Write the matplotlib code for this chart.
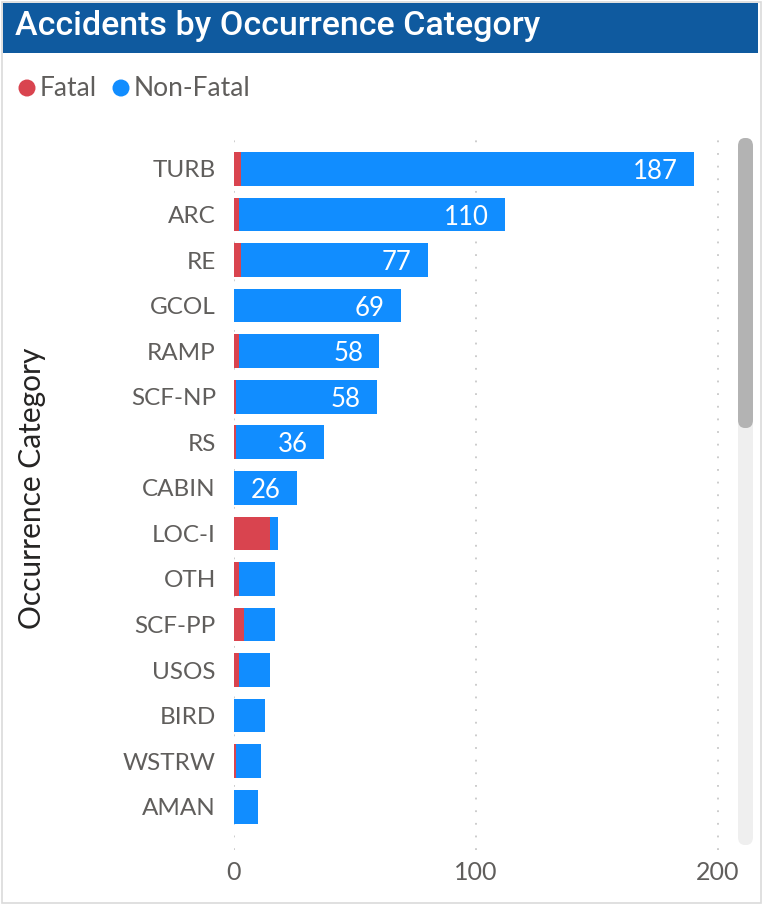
import matplotlib
matplotlib.use("Agg")
import matplotlib.pyplot as plt
from matplotlib.patches import FancyBboxPatch, Rectangle, Ellipse

categories = ["TURB", "ARC", "RE", "GCOL", "RAMP", "SCF-NP", "RS", "CABIN",
              "LOC-I", "OTH", "SCF-PP", "USOS", "BIRD", "WSTRW", "AMAN"]
fatal =     [3, 2, 3, 0, 2, 1, 1, 0, 15, 2, 4, 2, 0, 1, 0]
non_fatal = [187, 110, 77, 69, 58, 58, 36, 26, 3, 15, 13, 13, 13, 10, 10]
x_ticks = [0, 100, 200]

RED = "#D9444F"
BLUE = "#118DFF"
TITLE_BG = "#0F5A9F"
TICK_C = "#605E5C"
FONT = "Lato"

W, H = 763, 905
fig = plt.figure(figsize=(W / 100, H / 100), dpi=100, facecolor="white")

def fx(px):
    return px / W

def fy(py):
    return 1 - py / H

# outer border
fig.patches.append(Rectangle((fx(2), fy(903)), fx(759), 901 / H, transform=fig.transFigure,
                             facecolor="none", edgecolor="#DADADA", lw=1.2, zorder=5))
# title band
fig.patches.append(Rectangle((fx(3), fy(53)), fx(755), 50 / H, transform=fig.transFigure,
                             facecolor=TITLE_BG, edgecolor="none", zorder=1))
fig.text(fx(15), fy(26), "Accidents by Occurrence Category", color="white",
         fontsize=24.5, family="Roboto", fontweight="medium", va="center", ha="left")

# legend
fig.patches.append(Ellipse((fx(27), fy(88)), 17 / W, 17 / H, transform=fig.transFigure,
                           facecolor=RED, edgecolor="none"))
fig.text(fx(40), fy(88), "Fatal", color=TICK_C, fontsize=19, family=FONT, va="center", ha="left")
fig.patches.append(Ellipse((fx(121), fy(88)), 17 / W, 17 / H, transform=fig.transFigure,
                           facecolor=BLUE, edgecolor="none"))
fig.text(fx(134), fy(88), "Non-Fatal", color=TICK_C, fontsize=19, family=FONT, va="center", ha="left")

# axes
left, right, top, bottom = 234, 730, 138, 850
ax = fig.add_axes([fx(left), fy(bottom), fx(right - left), (bottom - top) / H])
ax.set_facecolor("none")
ypos = list(range(len(categories)))
ax.barh(ypos, fatal, height=0.74, color=RED, zorder=3)
ax.barh(ypos, non_fatal, left=fatal, height=0.74, color=BLUE, zorder=3)

for y, f, n in zip(ypos, fatal, non_fatal):
    if n >= 20:
        ax.annotate(str(n), xy=(f + n, y), xytext=(-16, 0), textcoords="offset pixels",
                    ha="right", va="center_baseline", color="white", fontsize=18.5,
                    family=FONT, zorder=4)

ax.set_xlim(0, (right - left) / 2.42)
ax.set_ylim(14.95, -0.68)
ax.set_yticks(ypos)
ax.set_yticklabels(categories)
ax.set_xticks(x_ticks)
ax.set_xticklabels([str(v) for v in x_ticks])
ax.tick_params(axis="both", length=0, colors=TICK_C)
ax.tick_params(axis="y", pad=13, labelsize=17.5)
ax.tick_params(axis="x", pad=8, labelsize=18)
for lab in ax.get_xticklabels() + ax.get_yticklabels():
    lab.set_family(FONT)
for s in ax.spines.values():
    s.set_visible(False)
ax.grid(axis="x", color="#C8C8C8", linestyle=(0, (1, 6)), lw=1.3, zorder=0)
ax.set_axisbelow(True)

fig.text(fx(32), fy(488), "Occurrence Category", rotation=90, color="#252423",
         fontsize=21.5, family=FONT, va="center", ha="center")

# scrollbar
fig.patches.append(FancyBboxPatch((fx(738), fy(845)), fx(15), 705 / H,
                                  boxstyle="round,pad=0,rounding_size=0.009",
                                  transform=fig.transFigure, facecolor="#EFEFEF", edgecolor="none"))
fig.patches.append(FancyBboxPatch((fx(738), fy(428)), fx(15), 290 / H,
                                  boxstyle="round,pad=0,rounding_size=0.009",
                                  transform=fig.transFigure, facecolor="#B3B3B3", edgecolor="none"))

fig.savefig("out.png", dpi=100)
